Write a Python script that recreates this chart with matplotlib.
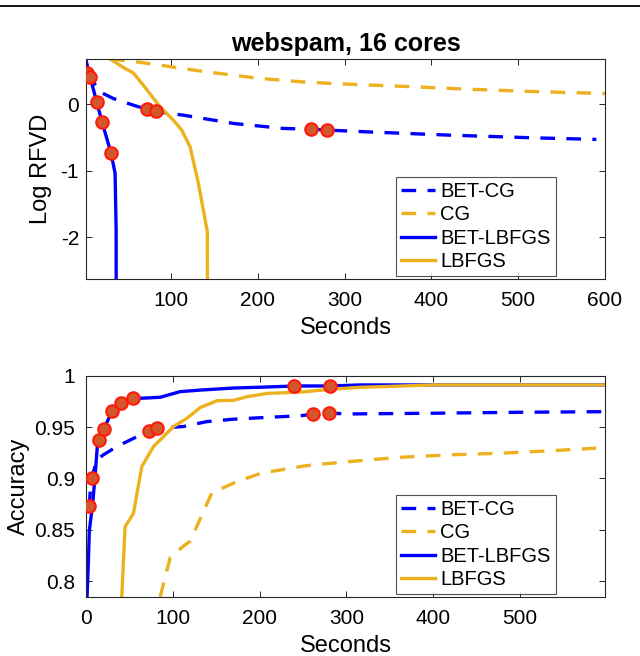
"""webspam, 16 cores: Log RFVD and accuracy over time."""

import matplotlib
matplotlib.use("Agg")
import matplotlib.pyplot as plt
from matplotlib.lines import Line2D

plt.rcParams["font.family"] = ["Liberation Sans", "DejaVu Sans"]
plt.rcParams["axes.unicode_minus"] = False

BLUE = "#0000FF"
GOLD = "#EDB120"

# --- top panel: Log RFVD ---
rfvd_betcg_t = [3.7, 6.8, 18, 33.5, 56.6, 72.7, 82.3, 114, 172, 229, 261, 280, 325, 421, 517, 590]
rfvd_betcg_v = [0.47, 0.41, 0.185, 0.085, -0.015, -0.08, -0.11, -0.165, -0.29, -0.365, -0.376, -0.39, -0.416, -0.466, -0.506, -0.53]
rfvd_cg_t = [29.8, 64, 133, 200, 252, 287, 364, 441, 517, 600]
rfvd_cg_v = [0.68, 0.63, 0.5, 0.39, 0.335, 0.31, 0.27, 0.226, 0.19, 0.16]
rfvd_betlb_t = [2, 6.7, 14.4, 20.5, 30.9, 35.5, 36.7, 36.8]
rfvd_betlb_v = [0.66, 0.41, 0.03, -0.27, -0.74, -1.04, -1.9, -3.0]
rfvd_lb_t = [29.8, 47, 56.6, 68, 87.3, 102.6, 112.3, 121.9, 131.5, 141.8, 142]
rfvd_lb_v = [0.68, 0.536, 0.47, 0.286, -0.04, -0.24, -0.39, -0.64, -1.19, -1.92, -3.0]
rfvd_mark_betcg_t = [3.7, 6.8, 72.7, 82.3, 261, 280]
rfvd_mark_betcg_v = [0.47, 0.41, -0.08, -0.11, -0.376, -0.39]
rfvd_mark_betlb_t = [14.4, 20.5, 30.9]
rfvd_mark_betlb_v = [0.03, -0.27, -0.74]

# --- bottom panel: accuracy ---
acc_betcg_t = [3.8, 5.4, 6.5, 12.3, 20, 35.4, 54.6, 73, 82, 112, 139, 170, 209, 247, 261, 280, 305, 401, 497, 599]
acc_betcg_v = [0.873, 0.895, 0.9, 0.918, 0.923, 0.931, 0.939, 0.946, 0.949, 0.9505, 0.9553, 0.9577, 0.9595, 0.961, 0.9625, 0.9635, 0.9628, 0.9635, 0.9644, 0.965]
acc_cg_t = [85.5, 97, 112, 120, 145, 170, 201, 247, 259, 324, 363, 420, 478, 536, 588]
acc_cg_v = [0.785, 0.823, 0.834, 0.839, 0.886, 0.8955, 0.905, 0.9116, 0.913, 0.918, 0.9207, 0.923, 0.9246, 0.927, 0.9295]
acc_betlb_t = [0.5, 1.2, 2.7, 3.8, 7.7, 10.4, 13, 14.7, 20.4, 30.4, 40, 54, 62.4, 85.5, 108.5, 131.6, 170, 209, 240, 281, 316, 450, 598]
acc_betlb_v = [0.7, 0.785, 0.818, 0.849, 0.876, 0.902, 0.931, 0.937, 0.948, 0.966, 0.973, 0.978, 0.978, 0.979, 0.9845, 0.986, 0.988, 0.989, 0.99, 0.99, 0.991, 0.991, 0.991]
acc_lb_t = [40, 41.2, 45, 54.6, 64.3, 77.7, 100.8, 116.3, 131.6, 151, 170, 185.6, 209, 247, 282, 316, 401, 599]
acc_lb_v = [0.7, 0.785, 0.853, 0.866, 0.9116, 0.931, 0.9505, 0.9586, 0.969, 0.9757, 0.976, 0.9796, 0.9828, 0.984, 0.9868, 0.9887, 0.991, 0.991]
acc_mark_betcg_t = [3.8, 6.5, 73, 82, 261, 280]
acc_mark_betcg_v = [0.873, 0.9, 0.946, 0.949, 0.9625, 0.9635]
acc_mark_betlb_t = [14.7, 20.4, 30.4, 40, 54, 240, 281]
acc_mark_betlb_v = [0.937, 0.948, 0.966, 0.973, 0.978, 0.99, 0.99]

labels = ["BET-CG", "CG", "BET-LBFGS", "LBFGS"]

LW = 2.4
DASH = (4.4, 3.4)


def draw_panel(ax, series, marks, ypad):
    styles = [(BLUE, True), (GOLD, True), (BLUE, False), (GOLD, False)]
    for (t, v), (color, dashed), label in zip(series, styles, labels):
        if dashed:
            ax.plot(t, v, color=color, lw=LW, dashes=DASH, label=label)
        else:
            ax.plot(t, v, color=color, lw=LW, label=label)
    for t, v in marks:
        ax.plot(t, v, linestyle="none", marker="o", markersize=9,
                markerfacecolor="#D2572B", markeredgecolor="#FF1A0A",
                markeredgewidth=1.5, zorder=5)
    for s in ax.spines.values():
        s.set_color("#262626")
        s.set_linewidth(0.8)
    ax.tick_params(direction="in", top=True, right=True, length=4,
                   width=0.7, color="#262626", labelsize=15)
    ax.tick_params(axis="x", pad=9)
    ax.tick_params(axis="y", pad=ypad)
    ax.set_xlabel("Seconds", fontsize=17, labelpad=5)
    leg = ax.legend(loc="lower right", bbox_to_anchor=(0.905, 0.012),
                    borderaxespad=0, fontsize=14.5, frameon=True, fancybox=False,
                    edgecolor="#262626", handlelength=1.7, handletextpad=0.25,
                    labelspacing=0.22, borderpad=0.25)
    leg.get_frame().set_linewidth(0.8)


fig = plt.figure(figsize=(6.4, 6.56), dpi=100)

ax1 = fig.add_axes([0.1344, 0.5747, 0.8109, 0.3354])
draw_panel(
    ax1,
    [(rfvd_betcg_t, rfvd_betcg_v), (rfvd_cg_t, rfvd_cg_v),
     (rfvd_betlb_t, rfvd_betlb_v), (rfvd_lb_t, rfvd_lb_v)],
    [(rfvd_mark_betcg_t, rfvd_mark_betcg_v), (rfvd_mark_betlb_t, rfvd_mark_betlb_v)],
    ypad=5,
)
ax1.set_xlim(2, 600)
ax1.set_ylim(-2.63, 0.68)
ax1.set_xticks([100, 200, 300, 400, 500, 600])
ax1.set_yticks([-2, -1, 0])
ax1.set_ylabel("Log RFVD", fontsize=17, labelpad=6)
ax1.set_title("webspam, 16 cores", fontsize=18, fontweight="bold", pad=6)

ax2 = fig.add_axes([0.1344, 0.0904, 0.8109, 0.3369])
draw_panel(
    ax2,
    [(acc_betcg_t, acc_betcg_v), (acc_cg_t, acc_cg_v),
     (acc_betlb_t, acc_betlb_v), (acc_lb_t, acc_lb_v)],
    [(acc_mark_betcg_t, acc_mark_betcg_v), (acc_mark_betlb_t, acc_mark_betlb_v)],
    ypad=8,
)
ax2.set_xlim(0, 598)
ax2.set_ylim(0.785, 1.0)
ax2.set_xticks([0, 100, 200, 300, 400, 500])
ax2.set_yticks([0.8, 0.85, 0.9, 0.95, 1.0])
ax2.set_yticklabels(["0.8", "0.85", "0.9", "0.95", "1"])
ax2.set_ylabel("Accuracy", fontsize=17, labelpad=3)

# page header rule cut off at the top of the figure
fig.add_artist(Line2D([0, 1], [1 - 6 / 656, 1 - 6 / 656], color="black", lw=1.3))

fig.savefig("out.png", dpi=100)
